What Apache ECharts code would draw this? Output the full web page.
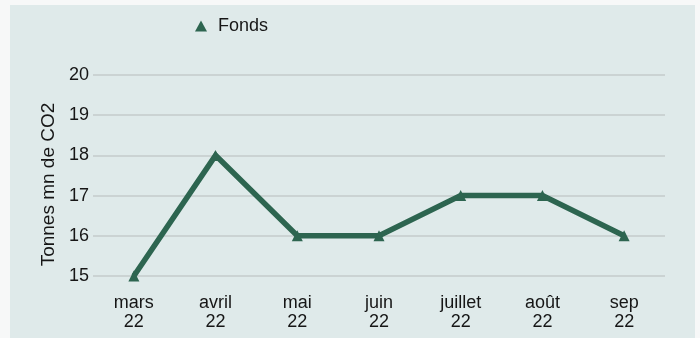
<!DOCTYPE html>
<html>
<head>
<meta charset="utf-8">
<script src="https://cdn.jsdelivr.net/npm/echarts@6/dist/echarts.min.js"></script>
<style>
  html, body { margin: 0; padding: 0; background: #f7f8f8; }
  #chart { width: 700px; height: 338px; }
</style>
</head>
<body>
<div id="chart"></div>
<script>
// Monthly emissions of the fund, in million tonnes of CO2
const months = ['mars\n22', 'avril\n22', 'mai\n22', 'juin\n22', 'juillet\n22', 'août\n22', 'sep\n22'];
const fondsValues = [15, 18, 16, 16, 17, 17, 16];
const seriesName = 'Fonds';
const yAxisTitle = 'Tonnes mn de CO2';

const lineColor = '#2d6550';
const textColor = '#161616';
const font = 'Liberation Sans, Arial, Helvetica, sans-serif';

const chart = echarts.init(document.getElementById('chart'), null, { renderer: 'canvas' });
chart.setOption({
  animation: false,
  backgroundColor: '#f7f8f8',
  graphic: [{
    type: 'rect',
    z: -10,
    silent: true,
    shape: { x: 10, y: 5, width: 685, height: 333 },
    style: { fill: '#dfeaea' }
  }],
  legend: {
    data: [{ name: seriesName, icon: 'triangle' }],
    left: 190,
    top: 12,
    itemWidth: 12,
    itemHeight: 11,
    itemGap: 6,
    textStyle: { fontFamily: font, fontSize: 18, color: textColor, padding: [0, 0, 0, 6] }
  },
  grid: { left: 93, right: 35, top: 75, bottom: 62, containLabel: false },
  xAxis: {
    type: 'category',
    data: months,
    boundaryGap: true,
    axisLine: { show: false },
    axisTick: { show: false },
    axisLabel: {
      margin: 18,
      fontFamily: font,
      fontSize: 18,
      lineHeight: 19,
      color: textColor,
      align: 'center'
    }
  },
  yAxis: {
    type: 'value',
    min: 15,
    max: 20,
    interval: 1,
    name: yAxisTitle,
    nameLocation: 'middle',
    nameGap: 32,
    nameRotate: 90,
    nameTextStyle: { fontFamily: font, fontSize: 19, color: textColor, padding: [0, 18, 0, 0] },
    axisLine: { show: false },
    axisTick: { show: false },
    axisLabel: { margin: 4, fontFamily: font, fontSize: 18, color: textColor },
    splitLine: { lineStyle: { color: '#c5cbcb', width: 1.5 } }
  },
  series: [{
    name: seriesName,
    type: 'line',
    data: fondsValues,
    symbol: 'triangle',
    symbolSize: 11,
    showSymbol: true,
    itemStyle: { color: lineColor },
    lineStyle: { color: lineColor, width: 5.5, join: 'miter' }
  }]
});
</script>
</body>
</html>
